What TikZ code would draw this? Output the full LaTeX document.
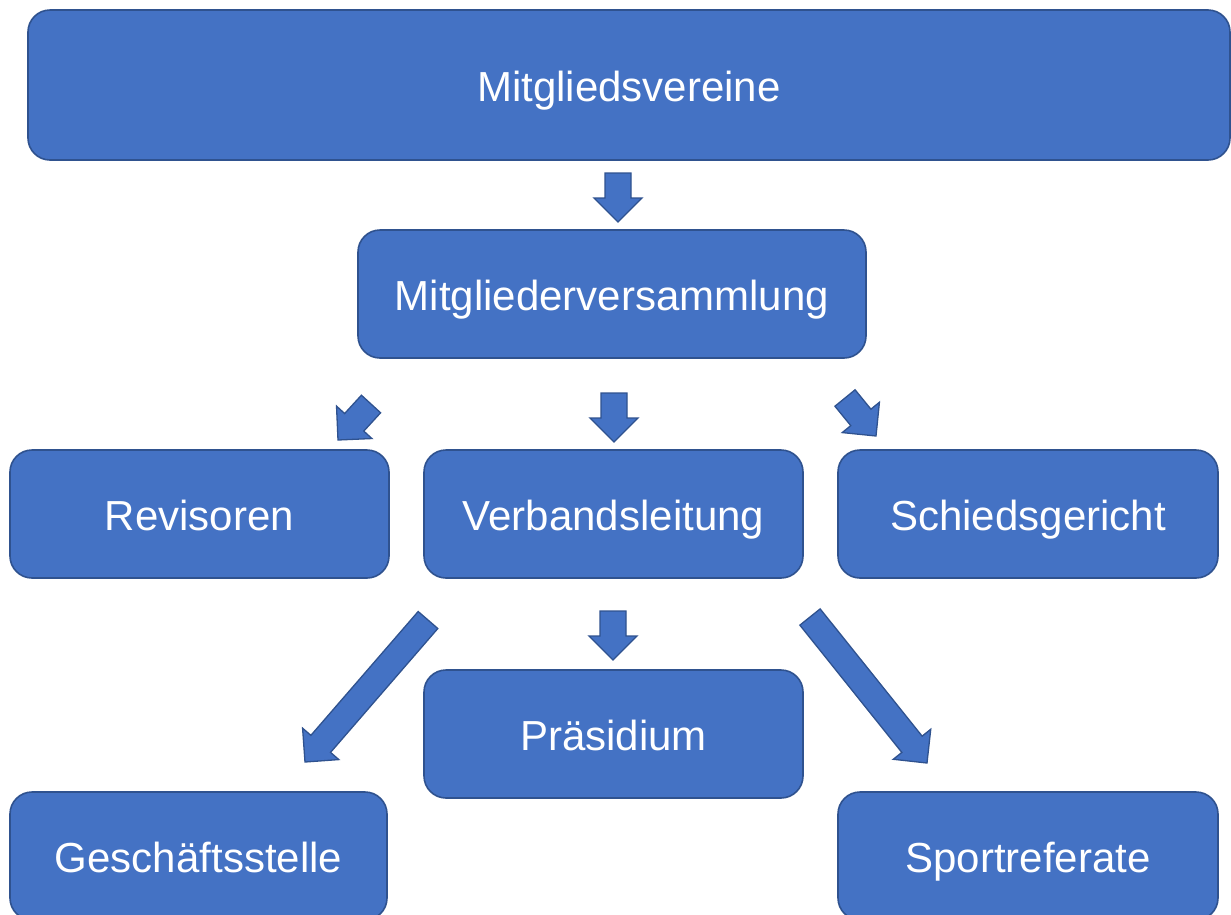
\documentclass[tikz,border=0pt]{standalone}
\usepackage{fontspec}
\setmainfont{Liberation Sans}
\usepackage{xcolor}
\usetikzlibrary{positioning,calc}
\definecolor{boxfill}{HTML}{4472C4}
\definecolor{boxline}{HTML}{2F528F}
% block arrow from tail #1 to tip #2
\newcommand{\blockarrow}[2]{%
  \path ($(#2)!24pt!(#1)$) coordinate (neck);
  \draw[barrow] ($(#1)!13pt!90:(#2)$) -- ($(neck)!13pt!90:(#2)$)
    -- ($(neck)!24pt!90:(#2)$) -- (#2) -- ($(neck)!24pt!-90:(#2)$)
    -- ($(neck)!13pt!-90:(#2)$) -- ($(#1)!13pt!-90:(#2)$) -- cycle;}

\begin{document}
\begin{tikzpicture}[x=1pt,y=-1pt,
  orgbox/.style={draw=boxline,fill=boxfill,line width=1.6pt,rounded corners=22pt,
    text=white,font=\fontsize{42}{50}\selectfont,text height=40pt,text depth=8pt,
    minimum width=379pt,minimum height=128pt,inner sep=0pt},
  barrow/.style={draw=boxline,fill=boxfill,line width=1.3pt,line join=miter}]
\clip (0,0) rectangle (1231,914);
\node[orgbox,minimum width=1202pt,minimum height=150pt] (verein) at (629,85) {Mitgliedsvereine};
\node[orgbox,minimum width=508pt] (versamm) at (612,294) {Mitgliederversammlung};
\node[orgbox] (revis) at (199.5,514) {Revisoren};
\node[orgbox] (leitung) at (613.5,514) {Verbandsleitung};
\node[orgbox,minimum width=380pt] (schied) at (1028,514) {Schiedsgericht};
\node[orgbox] (praes) at (613.5,734) {Präsidium};
\node[orgbox,minimum width=377pt] (gesch) at (198.5,856) {Geschäftsstelle};
\node[orgbox,minimum width=380pt] (sport) at (1028,856) {Sportreferate};
% arrow ends
\coordinate (t1) at (618,173); \coordinate (h1) at (618,222);
\coordinate (t2) at (614,393); \coordinate (h2) at (614,442);
\coordinate (t3) at (371,404); \coordinate (h3) at (338,440);
\coordinate (t4) at (845,398); \coordinate (h4) at (876,436);
\coordinate (t5) at (613,611); \coordinate (h5) at (613,660);
\coordinate (t6) at (428,620); \coordinate (h6) at (305,762);
\coordinate (t7) at (810,617); \coordinate (h7) at (927,763);
\foreach \i in {1,...,7} {\blockarrow{t\i}{h\i}}
\end{tikzpicture}
\end{document}
